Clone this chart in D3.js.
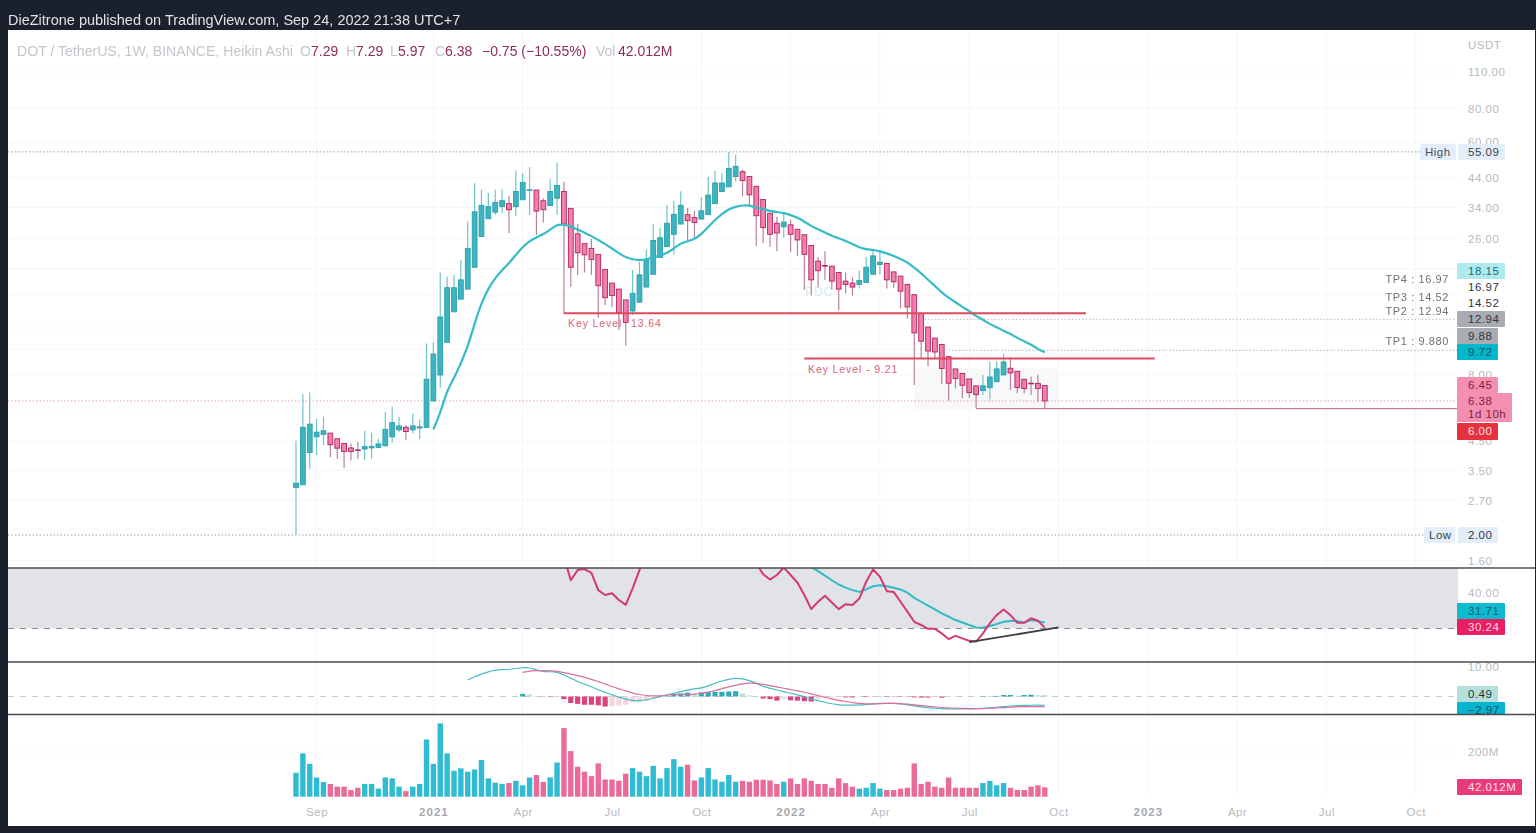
<!DOCTYPE html>
<html>
<head>
<meta charset="utf-8">
<script src="https://cdn.jsdelivr.net/npm/d3@7"></script>
<style>
html, body { margin: 0; padding: 0; background: #1a212c; }
svg { display: block; filter: blur(0.35px); }
text { font-family: "Liberation Sans", Arial, sans-serif; }
</style>
</head>
<body>
<svg id="chart" width="1536" height="833"></svg>
<script>
// weekly heikin ashi candles, first bar is the week of 17 Aug 2020
var firstWeek = new Date(Date.UTC(2020, 7, 17));

var candleOpen = [3.02,3.09,4.08,4.68,4.78,4.83,4.60,4.42,4.25,4.18,4.21,4.25,4.27,4.33,4.68,4.97,5.08,4.97,5.05,5.08,
  6.38,7.99,10.6,13.8,15.4,16.8,20.3,26.5,30.9,32.7,34.3,35.2,34.3,36.4,39.5,39.6,36.1,34.6,36.9,39.1,
  33.8,27.1,24.9,23.9,22.7,19.9,17.7,16.8,15.3,13.9,15.0,17.1,19.1,22.1,24.3,27.0,29.5,32.0,31.2,30.8,
  32.0,35.2,39.1,40.7,44.5,46.4,44.5,40.9,36.5,32.4,29.7,28.8,29.3,28.2,26.9,24.5,21.4,20.6,20.5,19.4,
  18.0,17.7,17.5,17.8,19.1,20.8,21.0,19.5,18.8,17.5,16.0,13.6,12.1,11.0,10.4,9.36,8.42,8.10,7.72,7.27,
  6.98,7.16,7.54,7.99,8.47,8.25,7.70,7.44,7.42,7.29];
var candleHigh = [4.52,6.78,6.87,5.47,5.57,4.83,4.60,4.42,4.42,4.47,4.93,4.85,4.60,5.80,6.07,5.57,5.18,5.73,5.44,10.5,
  10.6,19.4,18.7,19.0,21.6,30.1,42.0,39.7,38.6,39.7,39.9,37.7,46.9,45.8,48.3,39.6,36.9,43.5,50.1,42.5,
  33.8,29.5,24.9,25.9,22.7,19.9,17.7,16.8,15.3,19.8,21.3,23.6,29.5,28.6,34.8,36.1,39.2,33.9,33.1,37.3,
  44.4,46.7,45.8,55.09,53.7,47.2,44.5,40.9,36.5,32.4,31.4,32.2,30.6,28.2,26.9,24.5,22.2,23.3,20.5,19.4,
  19.4,18.6,19.7,22.2,23.6,23.3,21.0,19.5,18.8,17.5,16.0,13.6,12.1,11.0,10.4,9.36,8.42,8.10,7.72,7.27,
  7.99,8.97,8.97,9.58,9.31,8.25,7.70,7.88,8.01,7.29];
var candleLow = [2.00,3.09,3.55,4.00,4.36,3.92,3.87,3.58,3.81,3.87,3.83,3.87,4.24,4.30,4.44,4.87,4.55,4.82,4.58,5.08,
  6.38,7.16,10.6,13.8,15.4,16.8,20.3,26.5,30.9,31.9,32.4,27.3,31.6,36.4,31.9,26.8,29.9,34.6,31.9,13.6,
  17.1,19.0,19.4,19.0,13.1,14.6,14.4,11.8,10.3,13.4,15.0,17.1,19.1,22.1,24.3,22.6,29.5,25.3,26.0,30.8,
  32.0,35.2,39.1,40.7,42.6,37.5,34.8,24.4,25.0,24.2,23.3,26.2,23.1,22.4,16.7,15.9,17.1,18.2,16.7,14.0,
  16.2,15.9,16.9,17.8,19.1,19.1,16.9,17.0,14.2,13.0,7.33,9.23,8.60,9.15,7.40,6.40,7.12,6.54,6.54,6.00,
  6.72,6.48,7.54,7.99,7.02,6.82,6.82,6.72,6.34,5.97];
var candleClose = [3.13,5.08,5.22,4.87,4.93,4.37,4.24,4.12,4.12,4.16,4.30,4.30,4.40,4.99,5.29,5.14,4.90,5.14,5.10,7.70,
  9.58,13.2,17.0,17.0,18.2,23.9,32.8,34.7,34.3,35.6,36.1,33.4,39.1,42.3,39.7,33.0,33.4,39.1,41.2,29.5,
  20.3,23.0,22.6,21.7,17.3,15.6,15.9,13.7,12.6,16.2,19.0,21.5,25.6,26.2,29.7,32.1,34.7,30.4,29.9,33.1,
  37.9,42.1,42.1,47.7,48.6,43.0,38.0,31.7,28.6,27.0,27.3,30.0,27.0,25.7,22.7,18.2,19.7,20.5,18.0,16.8,
  17.5,17.1,18.1,20.3,22.4,21.2,18.2,17.9,16.5,14.4,11.5,10.7,9.83,9.75,8.45,7.44,7.74,7.31,6.86,6.74,
  7.27,7.85,8.42,8.94,8.13,7.16,7.10,7.40,7.10,6.38];

// moving average on price, starts at bar 21
var maStart = 20;
var maValues = [4.99,5.73,7.02,7.76,8.84,10.2,12.5,14.9,16.9,18.5,19.8,21.0,22.6,24.2,25.5,26.3,27.0,28.1,29.4,29.4,
  28.9,28.1,27.4,26.6,25.7,24.8,23.9,22.9,22.1,21.7,21.6,21.7,22.1,22.5,22.9,23.9,25.0,25.4,25.9,27.0,
  28.8,30.6,32.2,33.6,34.3,34.7,34.7,34.0,33.6,33.0,32.7,32.5,31.9,31.2,30.1,29.0,28.2,27.4,26.6,26.1,
  25.5,24.8,24.1,23.7,23.6,23.3,22.9,22.4,21.8,21.2,20.2,19.3,18.2,17.3,16.3,15.6,15.0,14.4,13.9,13.3,
  12.9,12.4,12.1,11.7,11.4,11.0,10.7,10.4,10.0,9.72];

// volume in millions
var volumeValues = [107,194,147,86,66,57,45,45,30,40,57,57,36,86,82,45,25,45,57,256,
  147,328,194,116,127,112,122,164,82,63,57,61,71,51,86,97,66,86,153,307,
  204,134,112,92,149,77,77,71,103,128,112,92,138,82,128,168,134,143,73,86,
  128,77,67,97,67,71,67,76,76,73,57,67,82,57,82,71,57,57,40,82,
  61,45,36,40,61,36,30,30,36,40,149,57,67,45,40,86,40,40,40,40,
  61,71,51,61,40,30,30,45,51,42];

// rsi, only what shows inside the pane. null = off the top of the pane
var rsiStart = 39;
var rsiValues = [50.3,43.7,46.6,46.9,45.8,40.9,39.5,40.0,38.1,36.7,41.4,46.6,52.2,
  null,null,null,null,null,null,null,null,null,null,null,null,null,null,null,
  48.5,45.4,43.9,45.2,47.3,45.2,43.0,39.5,35.5,37.6,39.3,37.4,35.5,36.9,36.7,38.5,43.3,46.8,44.7,40.6,
  40.4,37.6,34.8,31.9,31.0,29.9,29.9,28.6,27.0,27.9,27.2,26.5,26.3,28.6,31.5,33.8,35.4,33.8,31.6,31.6,32.9,32.2,30.24];
var rsiMaStart = 75;
var rsiMaValues = [47.5,46.3,45.0,43.7,42.5,41.6,40.9,40.4,41.1,42.0,42.3,42.0,41.6,41.1,40.2,38.7,37.6,36.5,35.4,34.3,
  33.4,32.4,31.7,31.0,30.3,30.2,30.7,31.3,31.9,32.1,32.1,31.7,32.4,32.1,31.71];

// macd
var macdStart = 25;
var macdValues = [5.6,6.75,7.6,8.4,9.0,9.1,9.2,9.5,9.8,9.8,9.0,8.4,8.4,8.3,7.3,6.2,5.05,4.15,3.35,2.2,
  1.45,.55,-.25,-.9,-1.4,-1.4,-1.15,-.6,-.05,.55,1.1,1.65,2.2,2.6,2.8,3.6,4.5,5.3,5.85,6.2,
  6.1,5.4,4.5,3.35,2.8,2.2,1.65,1.1,.55,-.05,-.9,-1.4,-1.95,-2.5,-2.85,-2.95,-2.95,-2.85,-2.75,-2.5,
  -2.3,-2.3,-2.3,-2.5,-2.85,-3.2,-3.5,-3.75,-4.0,-4.1,-4.2,-4.2,-4.2,-4.2,-4.1,-4.0,-3.85,-3.65,-3.4,-3.2,
  -3.1,-3.0,-2.95,-2.95,-2.97];
var signalStart = 33;
var signalValues = [8.2,8.7,8.8,8.8,8.7,8.6,8.1,7.6,7.1,6.5,5.85,5.05,4.3,3.35,2.6,1.9,1.1,.65,.3,.2,
  .2,.4,.75,.75,.65,.75,1.1,1.45,2.0,2.7,3.25,3.8,4.3,4.6,4.5,4.15,3.7,3.25,2.8,2.35,
  1.9,1.45,.9,.3,-.25,-.8,-1.3,-1.7,-2.05,-2.4,-2.5,-2.5,-2.4,-2.3,-2.3,-2.4,-2.6,-2.85,-3.1,-3.3,
  -3.5,-3.75,-3.85,-4.0,-4.0,-4.1,-4.1,-4.1,-4.0,-3.85,-3.75,-3.6,-3.5,-3.45,-3.4,-3.4,-3.46];
var histStart = 33;
var histValues = [.9,.7,.2,-.1,-.1,-.1,-.9,-2.2,-2.5,-2.8,-2.8,-3.0,-3.4,-3.3,-3.1,-2.8,-2.0,-1.9,-1.5,-.8,
  -.25,.2,.5,1.0,1.3,.9,1.4,1.5,1.6,1.6,1.7,1.8,1.0,.4,.1,-.7,-.9,-1.4,-.8,-1.3,
  -1.4,-1.6,-1.7,-.8,-.5,-.3,-.2,-.3,-.3,-.2,-.2,-.1,.1,-.1,-.1,-.1,-.1,-.3,-.35,-.35,
  -.1,-.4,-.1,.03,.03,.03,.03,.1,.1,.2,.5,.5,.2,.5,.6,.5,.49];

// axis ticks
var priceTicks = [110,80,60,44,34,26,8,4.5,3.5,2.7,1.6];
var rsiTicks = [40];
var macdTicks = [10];
var volumeTicks = [200];
var timeTicks = ['2020-09-07','2021-01-04','2021-04-05','2021-07-05','2021-10-04','2022-01-03','2022-04-04','2022-07-04','2022-10-03','2023-01-02','2023-04-03','2023-07-03','2023-10-02'];
var timeLabels = ['Sep','2021','Apr','Jul','Oct','2022','Apr','Jul','Oct','2023','Apr','Jul','Oct'];

var legendName = 'DOT / TetherUS, 1W, BINANCE, Heikin Ashi';
var publishLine = 'DieZitrone published on TradingView.com, Sep 24, 2022 21:38 UTC+7';

var plotLeft = 8, plotRight = 1458, plotEnd = 1535;
var teal = '#3db4c0', tealEdge = '#2b9fab', tealWick = '#6fc4c9';
var pink = '#f27fac', pinkEdge = '#b0255d', pinkWick = '#b98199';
var red = '#dc4a5e';

var svg = d3.select('#chart');
svg.append('rect').attr('x', plotLeft).attr('y', 30).attr('width', plotEnd - plotLeft).attr('height', 796).attr('fill', '#fff');

function day(s) { return new Date(s + 'T00:00:00Z'); }
function barDate(i) { return d3.utcDay.offset(firstWeek, i * 7); }

var x = d3.scaleUtc().domain([firstWeek, barDate(109)]).range([296, 1044.8]);
var y = d3.scaleLog().domain([2, 110]).range([535, 72]);
var yRsi = d3.scaleLinear().domain([30, 40]).range([628.5, 593.3]);
var yMacd = d3.scaleLinear().domain([0, 10]).range([696.5, 667]);
var yVol = d3.scaleLinear().domain([0, 200]).range([796.7, 752]);

// clip paths for the panes
function clip(id, top, bottom, right) {
  svg.append('clipPath').attr('id', id).append('rect')
    .attr('x', plotLeft).attr('y', top).attr('width', right - plotLeft).attr('height', bottom - top);
}
clip('rsiClip', 568, 662, plotRight);
clip('macdClip', 662, 714, plotRight);
clip('macdTagClip', 662, 714, plotEnd);

// grid
var grid = svg.append('g').attr('stroke', '#f6f6f8').attr('stroke-width', 1);
timeTicks.forEach(function (t) {
  grid.append('line').attr('x1', x(day(t))).attr('x2', x(day(t))).attr('y1', 30).attr('y2', 796);
});
priceTicks.concat([20, 16, 12, 10, 6, 2.1]).forEach(function (p) {
  grid.append('line').attr('x1', plotLeft).attr('x2', plotRight).attr('y1', y(p)).attr('y2', y(p));
});
grid.append('line').attr('x1', plotLeft).attr('x2', plotRight).attr('y1', yVol(200)).attr('y2', yVol(200));

// gray box around the last range
svg.append('rect')
  .attr('x', x(day('2022-05-09'))).attr('width', x(day('2022-10-03')) - x(day('2022-05-09')))
  .attr('y', y(8.45)).attr('height', y(5.97) - y(8.45))
  .attr('fill', '#f8f8f9');

// dotted price lines
function dotted(x1, x2, price, color) {
  svg.append('line').attr('x1', x1).attr('x2', x2).attr('y1', y(price)).attr('y2', y(price))
    .attr('stroke', color).attr('stroke-width', 1).attr('stroke-dasharray', '1.5 2');
}
dotted(plotLeft, 1420, 55.09, '#9a9da3');
dotted(plotLeft, 1424, 2.00, '#9a9da3');
dotted(plotLeft, plotRight, 6.38, '#d9a5b6');
dotted(x(day('2022-05-16')), plotRight, 12.94, '#b5b7bb');
dotted(x(day('2022-06-13')), plotRight, 9.88, '#b5b7bb');

svg.append('text').attr('x', 805).attr('y', 296).attr('fill', '#d3ecef').attr('font-size', 12).attr('letter-spacing', 1).text('PDC');

// candles
var candles = d3.range(candleOpen.length).map(function (i) {
  return { date: barDate(i), o: candleOpen[i], h: candleHigh[i], l: candleLow[i], c: candleClose[i], up: candleClose[i] >= candleOpen[i] };
});
var candle = svg.append('g').selectAll('g').data(candles).join('g');
candle.append('line')
  .attr('x1', function (d) { return x(d.date); })
  .attr('x2', function (d) { return x(d.date); })
  .attr('y1', function (d) { return y(d.h); })
  .attr('y2', function (d) { return y(d.l); })
  .attr('stroke', function (d) { return d.up ? tealWick : pinkWick; })
  .attr('stroke-width', 1.2);
candle.append('rect')
  .attr('x', function (d) { return x(d.date) - 2.4; })
  .attr('width', 4.8)
  .attr('y', function (d) { return y(Math.max(d.o, d.c)); })
  .attr('height', function (d) { return Math.max(0.6, Math.abs(y(d.o) - y(d.c))); })
  .attr('fill', function (d) { return d.up ? teal : pink; })
  .attr('stroke', function (d) { return d.up ? tealEdge : pinkEdge; })
  .attr('stroke-width', 0.9);

function drawLine(values, start, scale, color, width, clipId, curve) {
  var line = d3.line()
    .defined(function (d) { return d !== null; })
    .x(function (d, i) { return x(barDate(start + i)); })
    .y(function (d) { return scale(d); })
    .curve(curve || d3.curveLinear);
  var p = svg.append('path').datum(values).attr('d', line)
    .attr('fill', 'none').attr('stroke', color).attr('stroke-width', width).attr('stroke-linejoin', 'round');
  if (clipId) p.attr('clip-path', 'url(#' + clipId + ')');
}
drawLine(maValues, maStart, y, '#35bcc6', 2.2, null, d3.curveBasis);

// key levels and the low line
function level(from, to, price, color, width) {
  svg.append('line').attr('x1', from).attr('x2', to).attr('y1', y(price)).attr('y2', y(price))
    .attr('stroke', color).attr('stroke-width', width);
}
level(x(day('2021-05-17')), x(day('2022-10-31')), 13.64, red, 2);
level(x(day('2022-01-17')), x(day('2023-01-09')), 9.21, red, 2);
level(x(day('2022-07-11')), plotRight, 5.97, '#c77f94', 1.3);

function keyLabel(lx, ly, s) {
  svg.append('text').attr('x', lx).attr('y', ly).attr('fill', '#d9647c').attr('font-size', 10.5).attr('letter-spacing', 0.9).text(s);
}
keyLabel(568, 327, 'Key Level');
keyLabel(631, 327, '13.64');
keyLabel(808, 373, 'Key Level - 9.21');

// rsi pane
svg.append('rect').attr('x', plotLeft).attr('width', plotRight - plotLeft)
  .attr('y', 568).attr('height', yRsi(30) - 568).attr('fill', '#e2e3e6');
svg.append('line').attr('x1', plotLeft).attr('x2', plotRight).attr('y1', yRsi(30)).attr('y2', yRsi(30))
  .attr('stroke', '#8d8f95').attr('stroke-width', 1).attr('stroke-dasharray', '6 6');
drawLine(rsiMaValues, rsiMaStart, yRsi, '#33b9c8', 2, 'rsiClip');
drawLine(rsiValues, rsiStart, yRsi, '#d43a72', 2, 'rsiClip');
svg.append('line').attr('x1', x(day('2022-07-04'))).attr('x2', x(day('2022-10-03')))
  .attr('y1', yRsi(26.1)).attr('y2', yRsi(30.3)).attr('stroke', '#3d3f44').attr('stroke-width', 1.8);

// macd pane
svg.append('line').attr('x1', plotLeft).attr('x2', plotRight).attr('y1', yMacd(0)).attr('y2', yMacd(0))
  .attr('stroke', '#c9cbce').attr('stroke-width', 1).attr('stroke-dasharray', '6 6');
svg.append('g').attr('clip-path', 'url(#macdClip)').selectAll('rect').data(histValues).join('rect')
  .attr('x', function (d, i) { return x(barDate(histStart + i)) - 2.6; })
  .attr('width', 5.2)
  .attr('y', function (d) { return Math.min(yMacd(d), yMacd(0)); })
  .attr('height', function (d) { return Math.abs(yMacd(d) - yMacd(0)); })
  .attr('fill', function (d, i) {
    var prev = i > 0 ? histValues[i - 1] : d;
    if (d >= 0) return d >= prev ? '#2fa9bb' : '#b9e2dd';
    return d <= prev ? '#d9447f' : '#fbd3dc';
  });
drawLine(macdValues, macdStart, yMacd, '#45bcc4', 1.2, 'macdClip', d3.curveBasis);
drawLine(signalValues, signalStart, yMacd, '#d9709a', 1.2, 'macdClip', d3.curveBasis);

// volume
svg.append('g').selectAll('rect').data(volumeValues).join('rect')
  .attr('x', function (d, i) { return x(barDate(i)) - 2.7; })
  .attr('width', 5.4)
  .attr('y', function (d) { return yVol(d); })
  .attr('height', function (d) { return yVol(0) - yVol(d); })
  .attr('fill', function (d, i) { return candles[i].up ? '#2fbcd2' : '#ea6b9a'; });

// axes
function axisStyle(g) {
  g.select('.domain').remove();
  g.selectAll('text').attr('fill', '#b7bac0').attr('font-size', 11.5).attr('letter-spacing', 0.5)
    .style('font-family', '"Liberation Sans", Arial, sans-serif');
}
function rightAxis(scale, ticks, fmt) {
  svg.append('g').attr('transform', 'translate(' + plotRight + ',0)')
    .call(d3.axisRight(scale).tickValues(ticks).tickSize(0).tickPadding(10).tickFormat(fmt))
    .call(axisStyle);
}
rightAxis(y, priceTicks, d3.format('.2f'));
rightAxis(yRsi, rsiTicks, d3.format('.2f'));
rightAxis(yMacd, macdTicks, d3.format('.2f'));
rightAxis(yVol, volumeTicks, function (d) { return d + 'M'; });

var timeAxis = svg.append('g').attr('transform', 'translate(0,804)')
  .call(d3.axisBottom(x).tickValues(timeTicks.map(day)).tickSize(0).tickPadding(4)
    .tickFormat(function (d, i) { return timeLabels[i]; }))
  .call(axisStyle);
timeAxis.selectAll('text').filter(function (d, i) { return /^\d+$/.test(timeLabels[i]); })
  .attr('font-weight', 'bold').attr('fill', '#a5a8ae').attr('letter-spacing', 1);

svg.append('text').attr('x', 1468).attr('y', 49).attr('fill', '#b7bac0').attr('font-size', 11.5).attr('letter-spacing', 0.5).text('USDT');

// price tags on the right axis
function tag(parent, left, right, top, bottom, fill) {
  parent.append('rect').attr('x', left).attr('width', right - left).attr('y', top).attr('height', bottom - top).attr('rx', 1).attr('fill', fill);
}
function tagText(parent, tx, ty, s, color) {
  parent.append('text').attr('x', tx).attr('y', ty).attr('dy', '0.35em').attr('fill', color)
    .attr('font-size', 11.5).attr('letter-spacing', 0.5).text(s);
}
var tags = svg.append('g');
tag(tags, 1420, 1456, 144, 160, '#e4eefa');
tagText(tags, 1425, 152, 'High', '#4b4f57');
tag(tags, 1458, 1505, 144, 160, '#e4eefa');
tagText(tags, 1468, 152, '55.09', '#3b3f47');
tag(tags, 1424, 1455, 527, 543, '#e4eefa');
tagText(tags, 1429, 535, 'Low', '#3b3f47');
tag(tags, 1458, 1498, 527, 543, '#e4eefa');
tagText(tags, 1468, 535, '2.00', '#2f333b');

tag(tags, 1457, 1505, 263, 279, '#aeeaee');
tagText(tags, 1468, 271, '18.15', '#256a74');
tagText(tags, 1468, 287, '16.97', '#33363d');
tagText(tags, 1468, 303, '14.52', '#33363d');
tag(tags, 1457, 1505, 311, 327, '#aaacb4');
tagText(tags, 1468, 319, '12.94', '#33363d');
tag(tags, 1457, 1498, 328, 344, '#aaacb4');
tagText(tags, 1468, 336, '9.88', '#33363d');
tag(tags, 1457, 1498, 344, 360, '#06b6cb');
tagText(tags, 1468, 352, '9.72', '#0f5563');
tag(tags, 1457, 1498, 377, 393, '#f48fb1');
tagText(tags, 1468, 385, '6.45', '#7b2245');
tag(tags, 1457, 1512, 393, 422, '#f48fb1');
tagText(tags, 1468, 401, '6.38', '#7b2245');
tagText(tags, 1468, 414, '1d 10h', '#7b2245');
tag(tags, 1457, 1498, 423, 440, '#e5323f');
tagText(tags, 1468, 431, '6.00', '#fde3e3');

tag(tags, 1457, 1505, 603, 619, '#0dbad0');
tagText(tags, 1468, 611, '31.71', '#11606f');
tag(tags, 1457, 1505, 619, 635, '#e91e63');
tagText(tags, 1468, 627, '30.24', '#fcd9e4');

tag(tags, 1457, 1498, 686, 702, '#b5dfdb');
tagText(tags, 1468, 694, '0.49', '#23373a');
var minusTag = svg.append('g').attr('clip-path', 'url(#macdTagClip)');
tag(minusTag, 1457, 1505, 702, 718, '#06b6d0');
tagText(minusTag, 1468, 710, '\u22122.97', '#0f4f5e');

tag(tags, 1457, 1522, 779, 795, '#e93a7c');
tagText(tags, 1468, 787, '42.012M', '#fde0ea');

// TP notes
[['TP4 : 16.97', 279], ['TP3 : 14.52', 297], ['TP2 : 12.94', 311], ['TP1 : 9.880', 341]].forEach(function (t) {
  svg.append('text').attr('x', 1449).attr('y', t[1]).attr('dy', '0.35em').attr('text-anchor', 'end')
    .attr('fill', '#6d7179').attr('font-size', 11).attr('letter-spacing', 0.6).text(t[0]);
});

// pane separators
[568, 662, 714.5].forEach(function (py) {
  svg.append('line').attr('x1', plotLeft).attr('x2', plotEnd).attr('y1', py).attr('y2', py)
    .attr('stroke', '#4a4c52').attr('stroke-width', 1.4);
});

// header and legend
svg.append('text').attr('x', 8).attr('y', 25).attr('fill', '#e1e3e6').attr('font-size', 14.5).text(publishLine);
svg.append('text').attr('x', 17).attr('y', 56).attr('fill', '#c3c6cb').attr('font-size', 14.1).text(legendName);
var legendDark = '#8e2a5c', legendGray = '#c3c6cb';
[[300, 'O', legendGray], [311, '7.29', legendDark], [346, 'H', legendGray], [356, '7.29', legendDark],
 [390, 'L', legendGray], [398, '5.97', legendDark], [435, 'C', legendGray], [445, '6.38', legendDark],
 [482, '\u22120.75 (\u221210.55%)', legendDark], [596, 'Vol', legendGray], [618, '42.012M', legendDark]].forEach(function (t) {
  svg.append('text').attr('x', t[0]).attr('y', 56).attr('fill', t[2]).attr('font-size', 14).text(t[1]);
});
</script>
</body>
</html>
